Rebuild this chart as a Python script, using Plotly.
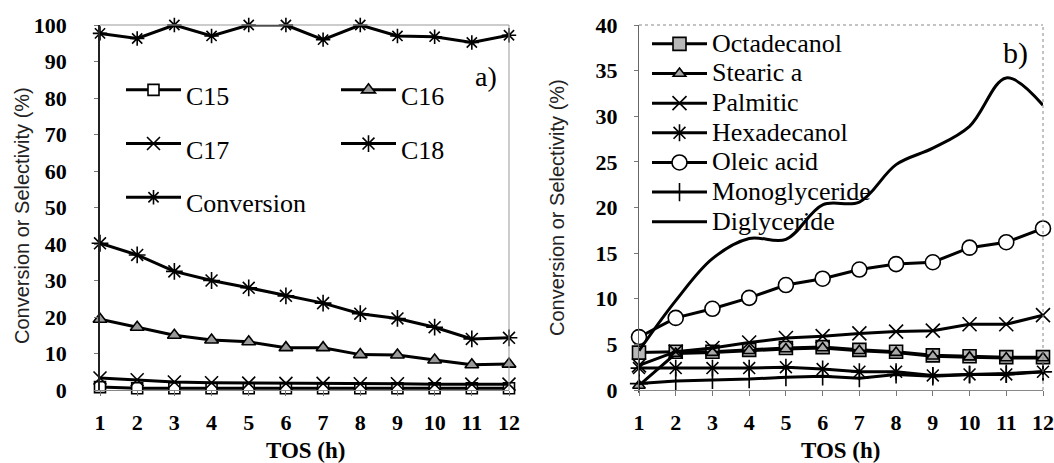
import plotly.graph_objects as go

W, H = 1054, 463

tos = [1, 2, 3, 4, 5, 6, 7, 8, 9, 10, 11, 12]

# Panel a)
c15 = [0.8, 0.5, 0.5, 0.5, 0.5, 0.5, 0.5, 0.5, 0.5, 0.5, 0.5, 0.5]
c16 = [19.4, 17.2, 15.0, 13.7, 13.2, 11.6, 11.6, 9.7, 9.6, 8.2, 6.9, 7.1]
c17 = [3.3, 2.8, 2.2, 2.0, 1.9, 1.8, 1.8, 1.7, 1.7, 1.6, 1.6, 1.6]
c18 = [40.2, 37.0, 32.5, 30.0, 28.0, 25.8, 23.8, 20.9, 19.6, 17.2, 14.0, 14.3]
conversion = [97.7, 96.3, 100, 97, 100, 100, 96, 100, 97, 96.8, 95.2, 97.2]

# Panel b)
octadecanol = [4.1, 4.2, 4.2, 4.4, 4.6, 4.7, 4.4, 4.2, 3.8, 3.7, 3.6, 3.6]
stearic = [0.5, 4.0, 4.1, 4.3, 4.5, 4.6, 4.3, 4.1, 3.7, 3.6, 3.5, 3.5]
palmitic = [2.7, 4.2, 4.6, 5.2, 5.7, 5.9, 6.2, 6.4, 6.5, 7.2, 7.2, 8.2]
hexadecanol = [2.4, 2.4, 2.4, 2.4, 2.5, 2.3, 2.0, 2.0, 1.6, 1.7, 1.7, 2.0]
oleic = [5.8, 7.9, 8.9, 10.1, 11.5, 12.2, 13.2, 13.8, 14.0, 15.6, 16.2, 17.7]
monoglyceride = [0.7, 1.0, 1.1, 1.2, 1.4, 1.5, 1.3, 1.7, 1.5, 1.7, 1.8, 2.0]
diglyceride = [4.3, 9.8, 14.4, 16.6, 16.5, 20.3, 20.6, 24.7, 26.5, 28.9, 34.2, 31.2]

yticks_a = [0, 10, 20, 30, 40, 50, 60, 70, 80, 90, 100]
yticks_b = [0, 5, 10, 15, 20, 25, 30, 35, 40]

SERIF = "Liberation Serif"
SANS = "Liberation Sans"
LW = 3


def lab(t):
    return '<span style="font-size:26px">' + t + '</span>'


def tr(x, y, name, symbol, fill, size, xa, ya, legend, mode="lines+markers", shape="linear"):
    return go.Scatter(
        x=x, y=y, name=lab(name), mode=mode, xaxis=xa, yaxis=ya, legend=legend,
        line=dict(color="black", width=LW, shape=shape),
        marker=dict(symbol=symbol, size=size, color=fill,
                    line=dict(color="black", width=1.6)),
        cliponaxis=False,
    )


fig = go.Figure()
# panel a
fig.add_trace(tr(tos, c15, "C15", "square", "white", 11, "x", "y", "legend"))
fig.add_trace(tr(tos, c16, "C16", "triangle-up", "#9a9a9a", 12, "x", "y", "legend2"))
fig.add_trace(tr(tos, c17, "C17", "x-thin-open", "black", 13, "x", "y", "legend"))
fig.add_trace(tr(tos, c18, "C18", "asterisk-open", "black", 14, "x", "y", "legend2"))
fig.add_trace(tr(tos, conversion, "Conversion", "asterisk-open", "black", 12, "x", "y", "legend"))
# panel b
fig.add_trace(tr(tos, octadecanol, "Octadecanol", "square", "#b8b8b8", 13, "x2", "y2", "legend3"))
fig.add_trace(tr(tos, stearic, "Stearic a", "triangle-up", "#a8a8a8", 11, "x2", "y2", "legend3"))
fig.add_trace(tr(tos, palmitic, "Palmitic", "x-thin-open", "black", 14, "x2", "y2", "legend3"))
fig.add_trace(tr(tos, hexadecanol, "Hexadecanol", "asterisk-open", "black", 14, "x2", "y2", "legend3"))
fig.add_trace(tr(tos, oleic, "Oleic acid", "circle", "white", 15, "x2", "y2", "legend3"))
fig.add_trace(tr(tos, monoglyceride, "Monoglyceride", "cross-thin-open", "black", 13, "x2", "y2", "legend3"))
fig.add_trace(tr(tos, diglyceride, "Diglyceride", "circle", "black", 1, "x2", "y2", "legend3",
                 mode="lines", shape="spline"))

tickfont = dict(family=SERIF, size=22, color="black", weight="bold")
ydom = [1 - 390 / H, 1 - 25 / H]

xcommon = dict(tickmode="array", tickvals=tos, ticks="outside", ticklen=5, tickcolor="#777",
               showline=True, linecolor="#888", linewidth=1, showgrid=False, zeroline=False,
               tickfont=tickfont, ticklabelstandoff=8, range=[1, 12], automargin=False)
fig.update_layout(
    width=W, height=H, margin=dict(l=0, r=0, t=0, b=0, pad=0, autoexpand=False),
    paper_bgcolor="white", plot_bgcolor="white",
    xaxis=dict(domain=[100 / W, 509 / W], anchor="y", **xcommon),
    xaxis2=dict(domain=[639 / W, 1043 / W], anchor="y2", **xcommon),
    yaxis=dict(domain=ydom, anchor="x", range=[0, 100], tickmode="array", tickvals=yticks_a,
               ticks="outside", ticklen=4, tickcolor="#777", showline=True, linecolor="#222",
               linewidth=1.5, showgrid=False, zeroline=False, tickfont=tickfont,
               ticklabelstandoff=23, automargin=False),
    yaxis2=dict(domain=ydom, anchor="x2", range=[0, 40], tickmode="array", tickvals=yticks_b,
                ticks="outside", ticklen=4, tickcolor="#777", showline=True, linecolor="#666",
                linewidth=1, showgrid=False, zeroline=False, tickfont=tickfont,
                ticklabelstandoff=12, automargin=False),
    showlegend=True,
    legend=dict(x=121 / W, y=1 - 58 / H, xanchor="left", yanchor="top", bgcolor="rgba(0,0,0,0)",
                font=dict(family=SERIF, size=39, color="black"), itemwidth=55, orientation="v"),
    legend2=dict(x=336 / W, y=1 - 58 / H, xanchor="left", yanchor="top", bgcolor="rgba(0,0,0,0)",
                 font=dict(family=SERIF, size=39, color="black"), itemwidth=55, orientation="v"),
    legend3=dict(x=647 / W, y=1 - 24 / H, xanchor="left", yanchor="top", bgcolor="rgba(0,0,0,0)",
                 font=dict(family=SERIF, size=20.5, color="black"), itemwidth=55, orientation="v"),
)

# frames
fig.add_shape(type="line", xref="x domain", yref="y domain", x0=0, x1=1, y0=1, y1=1,
              line=dict(color="#999", width=1))
fig.add_shape(type="line", xref="x domain", yref="y domain", x0=1, x1=1, y0=0, y1=1,
              line=dict(color="#999", width=1))
fig.add_shape(type="line", xref="x2 domain", yref="y2 domain", x0=0, x1=1, y0=1, y1=1,
              line=dict(color="#888", width=1, dash="dot"))
fig.add_shape(type="line", xref="x2 domain", yref="y2 domain", x0=1, x1=1, y0=0, y1=1,
              line=dict(color="#888", width=1, dash="dot"))

ann = []
ann.append(dict(text="Conversion or Selectivity (%)", x=22 / W, y=1 - 216 / H, xref="paper",
                yref="paper", textangle=-90, showarrow=False, xanchor="center", yanchor="middle",
                font=dict(family=SANS, size=20, color="#222")))
ann.append(dict(text="Conversion or Selectivity (%)", x=557 / W, y=1 - 208 / H, xref="paper",
                yref="paper", textangle=-90, showarrow=False, xanchor="center", yanchor="middle",
                font=dict(family=SANS, size=20, color="#222")))
ann.append(dict(text="TOS (h)", x=305 / W, y=1 - 450 / H, xref="paper", yref="paper",
                showarrow=False, xanchor="center", yanchor="middle",
                font=dict(family=SERIF, size=23, color="black", weight="bold")))
ann.append(dict(text="TOS (h)", x=840 / W, y=1 - 450 / H, xref="paper", yref="paper",
                showarrow=False, xanchor="center", yanchor="middle",
                font=dict(family=SERIF, size=23, color="black", weight="bold")))
ann.append(dict(text="a)", x=486 / W, y=1 - 77 / H, xref="paper", yref="paper",
                showarrow=False, xanchor="center", yanchor="middle",
                font=dict(family=SERIF, size=28, color="black")))
ann.append(dict(text="b)", x=1015 / W, y=1 - 53 / H, xref="paper", yref="paper",
                showarrow=False, xanchor="center", yanchor="middle",
                font=dict(family=SERIF, size=30, color="black")))
fig.update_layout(annotations=ann)

fig.write_html("out.html")
